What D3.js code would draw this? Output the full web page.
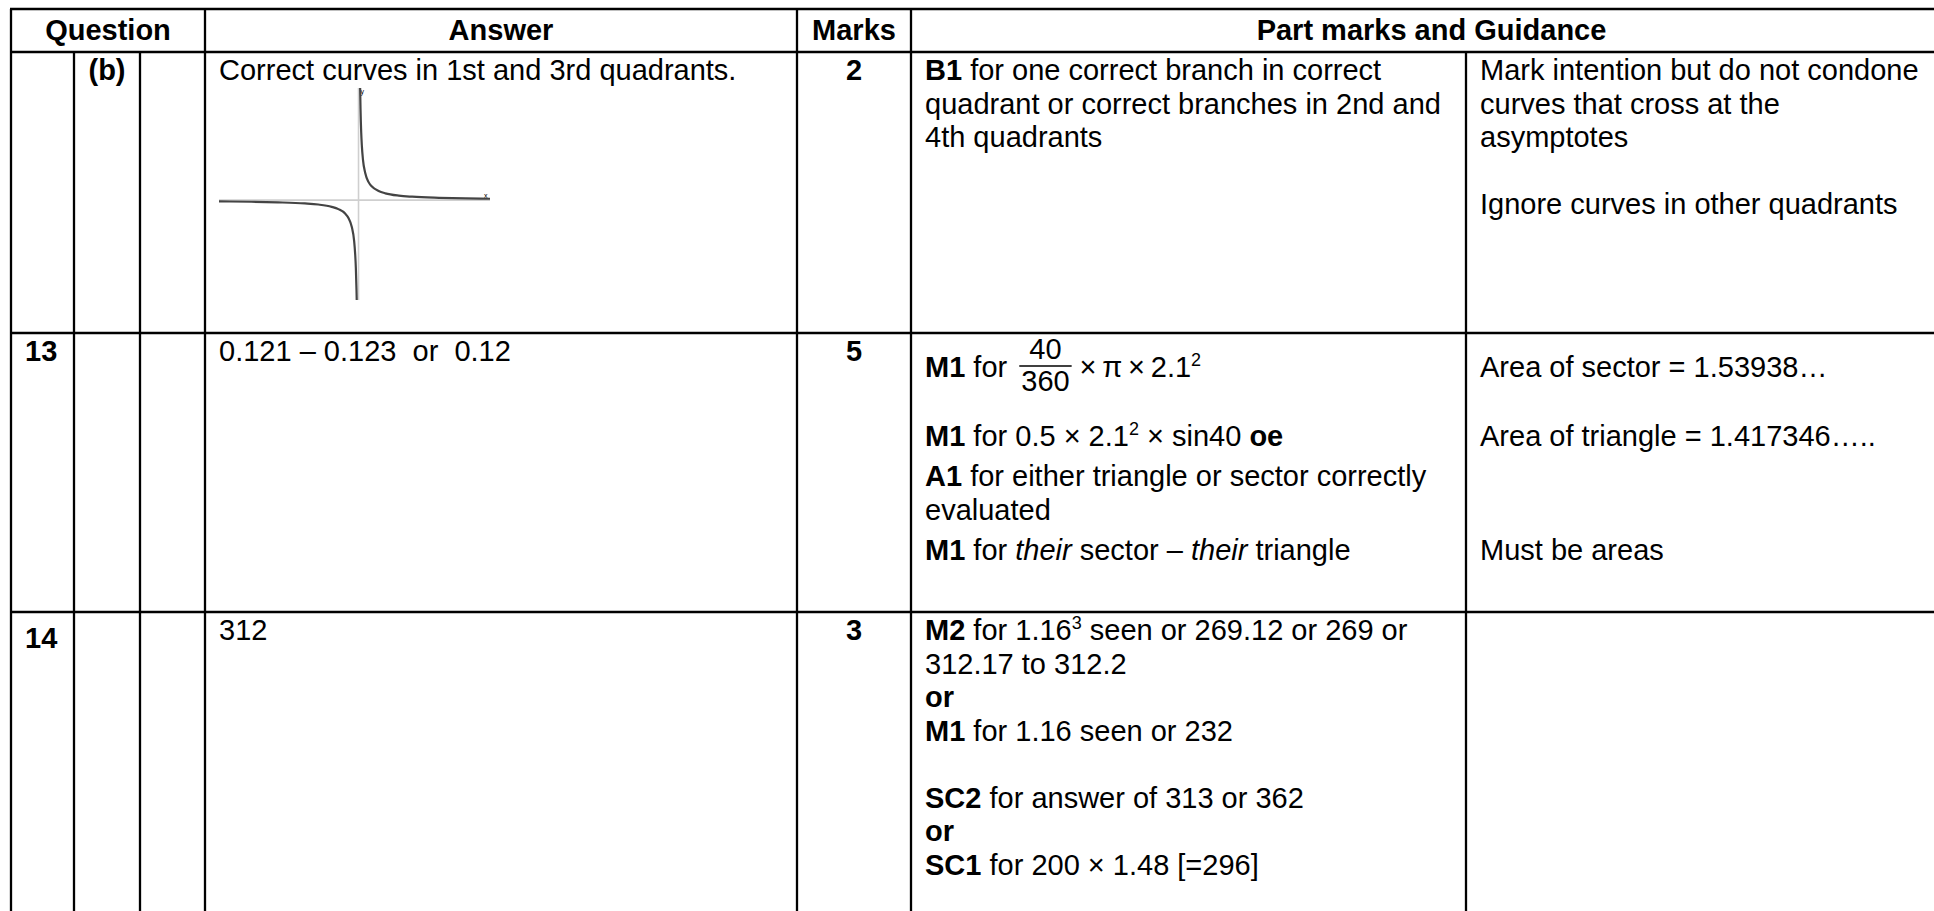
<!DOCTYPE html>
<html>
<head>
<meta charset="utf-8">
<script src="https://cdn.jsdelivr.net/npm/d3@7"></script>
<style>
body { margin: 0; background: #fff; }
svg { display: block; font-family: "Liberation Sans", Arial, sans-serif; }
svg text { white-space: pre; fill: #000; }
</style>
</head>
<body>
<svg id="sheet" width="1934" height="911"></svg>
<script>
// table content
var headers = ["Question", "Answer", "Marks", "Part marks and Guidance"];
var questions = ["", "13", "14"];
var parts = ["(b)", "", ""];
var answers = ["Correct curves in 1st and 3rd quadrants.", "0.121 \u2013 0.123  or  0.12", "312"];
var marks = ["2", "5", "3"];

// rows -> paragraphs -> lines   (*bold*  _italic_  ^sup^  {num/den})
var partMarks = [
	[["*B1* for one correct branch in correct", "quadrant or correct branches in 2nd and", "4th quadrants"]],
	[["*M1* for {40/360}\u202f\u00d7\u202f\u03c0\u202f\u00d7\u202f2.1^2^"],
	 ["*M1* for 0.5 \u00d7 2.1^2^ \u00d7 sin40 *oe*"],
	 ["*A1* for either triangle or sector correctly", "evaluated"],
	 ["*M1* for _their_ sector \u2013 _their_ triangle"]],
	[["*M2* for 1.16^3^ seen or 269.12 or 269 or", "312.17 to 312.2", "*or*", "*M1* for 1.16 seen or 232", "",
	  "*SC2* for answer of 313 or 362", "*or*", "*SC1* for 200 \u00d7 1.48 [=296]"]]
];
var guidance = [
	[["Mark intention but do not condone", "curves that cross at the", "asymptotes", "", "Ignore curves in other quadrants"]],
	[["Area of sector = 1.53938\u2026"], ["Area of triangle = 1.417346\u2026.."], ["", ""], ["Must be areas"]],
	[[]]
];

// sketch of y = 1/x
var upperBranch = [[0.12, 8.3], [0.15, 6.7], [0.2, 5], [0.25, 4], [0.33, 3], [0.5, 2], [0.75, 1.33], [1, 1],
	[1.5, 0.67], [2, 0.5], [3, 0.33], [4, 0.25], [6, 0.17], [8, 0.125], [9.8, 0.1]];
var lowerBranch = [[-10.4, -0.096], [-8, -0.125], [-6, -0.17], [-4, -0.25], [-3, -0.33], [-2, -0.5], [-1.5, -0.67],
	[-1, -1], [-0.75, -1.33], [-0.5, -2], [-0.33, -3], [-0.25, -4], [-0.2, -5], [-0.15, -6.7], [-0.135, -7.4]];
var xDomain = [-10.4, 9.8], yDomain = [-7.4, 8.3];

// layout
var colX = [11, 74, 140, 205, 797, 911, 1466, 1952];
var rowY = [9, 52, 333, 612, 940];
var FS = 29, LINE_H = 33.5, FIRST = 28, PAD = 14;
var paraGap = [0, 6.5, 0];
var qShift = [0, 0, 8];

var svg = d3.select("#sheet");
var grid = svg.append("g").attr("stroke", "#000").attr("stroke-width", 2.3);
var txt = svg.append("g").attr("font-size", FS);

function hline(y, x1, x2) { grid.append("line").attr("x1", x1).attr("x2", x2).attr("y1", y).attr("y2", y); }
function vline(x, y1, y2) { grid.append("line").attr("x1", x).attr("x2", x).attr("y1", y1).attr("y2", y2); }

// grid lines
hline(rowY[0], colX[0] - 1, colX[7]);
rowY.slice(1, 4).forEach(function(y) { hline(y, colX[0] - 1, colX[7]); });
[0, 3, 4, 5, 7].forEach(function(i) { vline(colX[i], rowY[0], rowY[4]); });
[1, 2, 6].forEach(function(i) { vline(colX[i], rowY[1], rowY[4]); });

// header
var headSpans = [[0, 3], [3, 4], [4, 5], [5, 7]];
headers.forEach(function(h, i) {
	var a = colX[headSpans[i][0]], b = colX[headSpans[i][1]];
	txt.append("text").attr("x", (a + b) / 2).attr("y", rowY[0] + 31)
		.attr("text-anchor", "middle").attr("font-weight", "bold").text(h);
});

// one line of rich text
function drawLine(str, x, y) {
	var pieces = str.split(/(\*[^*]+\*|_[^_]+_|\^[^\^]+\^|\{[^}]+\})/).filter(function(s) { return s.length; });
	var t = txt.append("text").attr("x", x).attr("y", y);
	var raised = false;
	pieces.forEach(function(p) {
		if (p[0] === "{") {
			var fx = x + t.node().getComputedTextLength() + 4;
			var nd = p.slice(1, -1).split("/");
			var num = txt.append("text").attr("y", y - 18).attr("text-anchor", "middle").text(nd[0]);
			var den = txt.append("text").attr("y", y + 14).attr("text-anchor", "middle").text(nd[1]);
			var w = Math.max(num.node().getComputedTextLength(), den.node().getComputedTextLength()) + 4;
			num.attr("x", fx + w / 2);
			den.attr("x", fx + w / 2);
			txt.append("line").attr("x1", fx).attr("x2", fx + w).attr("y1", y - 11).attr("y2", y - 11)
				.attr("stroke", "#000").attr("stroke-width", 1.3);
			x = fx + w + 2;
			t = txt.append("text").attr("x", x).attr("y", y);
			return;
		}
		var s = t.append("tspan");
		if (raised) { s.attr("dy", 11); raised = false; }
		if (p[0] === "*") s.attr("font-weight", "bold").text(p.slice(1, -1));
		else if (p[0] === "_") s.attr("font-style", "italic").text(p.slice(1, -1));
		else if (p[0] === "^") { s.attr("font-size", 18).attr("dy", -11).text(p.slice(1, -1)); raised = true; }
		else s.text(p);
	});
}

// paragraphs in a cell; a paragraph holding a fraction gets extra room
function drawCell(paras, x, top, gap, tallRef) {
	var y = top + FIRST;
	paras.forEach(function(lines, pi) {
		var tall = tallRef[pi];
		if (tall) y += 16;
		lines.forEach(function(l) {
			if (l.length) drawLine(l, x, y);
			y += LINE_H;
		});
		if (tall) y += 29;
		y += gap;
	});
}

answers.forEach(function(ans, r) {
	var top = rowY[r + 1];
	if (questions[r]) txt.append("text").attr("x", colX[0] + 14).attr("y", top + FIRST + qShift[r])
		.attr("font-weight", "bold").text(questions[r]);
	if (parts[r]) txt.append("text").attr("x", (colX[1] + colX[2]) / 2).attr("y", top + FIRST)
		.attr("text-anchor", "middle").attr("font-weight", "bold").text(parts[r]);
	txt.append("text").attr("x", colX[3] + PAD).attr("y", top + FIRST).text(ans);
	txt.append("text").attr("x", (colX[4] + colX[5]) / 2).attr("y", top + FIRST)
		.attr("text-anchor", "middle").attr("font-weight", "bold").text(marks[r]);
	var tallRef = partMarks[r].map(function(p) { return p.join("").indexOf("{") >= 0; });
	drawCell(partMarks[r], colX[5] + PAD, top, paraGap[r], tallRef);
	drawCell(guidance[r], colX[6] + PAD, top, paraGap[r], tallRef);
});

// the sketch graph
var gx = d3.scaleLinear().domain(xDomain).range([219, 490]);
var gy = d3.scaleLinear().domain(yDomain).range([300, 88]);
var graph = svg.append("g");
graph.append("line").attr("x1", gx(xDomain[0])).attr("x2", gx(xDomain[1])).attr("y1", gy(0)).attr("y2", gy(0))
	.attr("stroke", "#cfcfcf").attr("stroke-width", 1.6);
graph.append("line").attr("x1", gx(0)).attr("x2", gx(0)).attr("y1", gy(yDomain[0])).attr("y2", gy(yDomain[1]))
	.attr("stroke", "#cfcfcf").attr("stroke-width", 1.6);
graph.append("text").attr("x", gx(0) + 2).attr("y", gy(yDomain[1]) + 6).attr("font-size", 7).attr("fill", "#999").text("y");
graph.append("text").attr("x", gx(xDomain[1]) - 6).attr("y", gy(0) - 2).attr("font-size", 7).attr("fill", "#999").text("x");
var curve = d3.line().x(function(d) { return gx(d[0]); }).y(function(d) { return gy(d[1]); }).curve(d3.curveMonotoneX);
[upperBranch, lowerBranch].forEach(function(b) {
	graph.append("path").attr("d", curve(b)).attr("fill", "none").attr("stroke", "#444").attr("stroke-width", 2.2);
});
</script>
</body>
</html>
